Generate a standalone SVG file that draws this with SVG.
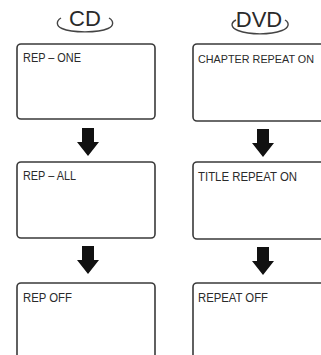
<svg xmlns="http://www.w3.org/2000/svg" width="321" height="355" viewBox="0 0 321 355">
<defs>
<style>
.box{fill:#fff;stroke:#3a3a3a;stroke-width:1.6}
.lbl{font-family:"Liberation Sans",Arial,sans-serif;font-size:12.5px;fill:#2a2a2a}
.hdr{font-family:"Liberation Sans",Arial,sans-serif;font-size:22px;fill:#2a2a2a;text-anchor:middle}
.arc{fill:none;stroke:#444;stroke-width:1.4}
.arr{fill:#111}
</style>
<path id="arrow" d="M-6,0 H6 V14 H11 L0,28 L-11,14 H-6 Z"/>
</defs>
<rect width="321" height="355" fill="#fff"/>
<g id="hdr-cd">
<text class="hdr" x="85" y="26">CD</text>
<path class="arc" d="M61,18 C56,21 56,26 62,28.5 C72,33 98,33 108,28.5 C114,26 114,21 109,18"/>
</g>
<g id="hdr-dvd">
<text class="hdr" x="259" y="27">DVD</text>
<path class="arc" d="M236,20 C230,23 231,28 238,30.5 C250,35 270,35 282,30.5 C289,28 290,23 285,20"/>
</g>
<g id="cd1">
<rect class="box" x="17" y="44" width="138" height="75" rx="4"/>
<text class="lbl" x="23" y="62" textLength="58" lengthAdjust="spacingAndGlyphs">REP – ONE</text>
</g>
<g id="cd2">
<rect class="box" x="17" y="162" width="138" height="76" rx="4"/>
<text class="lbl" x="23" y="180" textLength="53" lengthAdjust="spacingAndGlyphs">REP – ALL</text>
</g>
<g id="cd3">
<rect class="box" x="17" y="283" width="138" height="90" rx="4"/>
<text class="lbl" x="23" y="302" textLength="49" lengthAdjust="spacingAndGlyphs">REP OFF</text>
</g>
<g id="dvd1">
<rect class="box" x="193" y="44" width="140" height="77" rx="4"/>
<text class="lbl" style="font-size:11px" x="198" y="63" textLength="116" lengthAdjust="spacingAndGlyphs">CHAPTER REPEAT ON</text>
</g>
<g id="dvd2">
<rect class="box" x="193" y="162" width="140" height="77" rx="4"/>
<text class="lbl" x="198" y="181" textLength="99" lengthAdjust="spacingAndGlyphs">TITLE REPEAT ON</text>
</g>
<g id="dvd3">
<rect class="box" x="193" y="283" width="140" height="90" rx="4"/>
<text class="lbl" x="198" y="302" textLength="70" lengthAdjust="spacingAndGlyphs">REPEAT OFF</text>
</g>
<g id="connectors">
<use class="arr" href="#arrow" transform="translate(88,128)"/>
<use class="arr" href="#arrow" transform="translate(88,246)"/>
<use class="arr" href="#arrow" transform="translate(263,129)"/>
<use class="arr" href="#arrow" transform="translate(263,247)"/>
</g>
</svg>
